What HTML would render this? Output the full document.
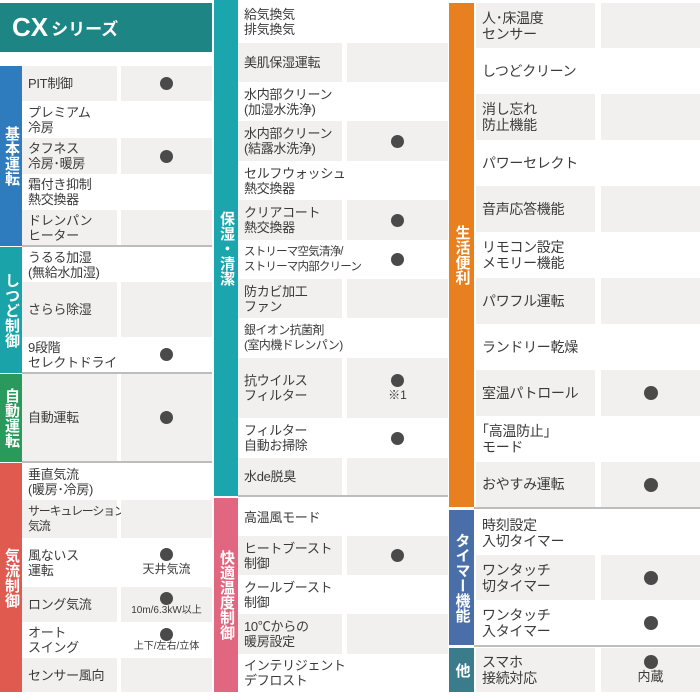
<!DOCTYPE html>
<html><head><meta charset="utf-8"><style>
body{margin:0;width:700px;height:700px;background:#fff;position:relative;overflow:hidden;font-family:"Liberation Sans","Noto Sans CJK JP",sans-serif;color:#3a3a3a}
div{position:absolute;box-sizing:border-box}
.l{font-size:13px;line-height:15px;display:flex;align-items:center;padding-left:6px;white-space:nowrap;letter-spacing:-0.3px}
.g{background:#f1f0ee}
.v{display:flex;flex-direction:column;align-items:center;justify-content:center;font-size:10px;line-height:12px}
.d{position:static;width:13px;height:13px;border-radius:50%;background:#4a4a4a}
.s{color:#fff;font-weight:bold;font-size:15px;line-height:16px;display:flex;align-items:center;justify-content:center;writing-mode:vertical-rl;text-orientation:upright}
.hr{height:2px;background:#bdbdbd}
</style></head><body>
<div style="left:0;top:3px;width:212px;height:49px;background:#1e8585;color:#fff;padding-left:12px;display:flex;align-items:center"><span style="font-size:26px;font-weight:bold">CX</span><span style="font-size:17px;font-weight:bold;margin-left:3px">シリーズ</span></div>

<!-- col1 -->
<div class="s" style="left:0;top:66px;width:22px;height:180px;background:#2e7bbd">基本運転</div>
<div class="s" style="left:0;top:247px;width:22px;height:126px;background:#1aa3a8">しつど制御</div>
<div class="s" style="left:0;top:374px;width:22px;height:88px;background:#2a9a5c">自動運転</div>
<div class="s" style="left:0;top:463px;width:22px;height:229px;background:#e05a4f">気流制御</div>
<div class="hr" style="left:22px;top:245px;width:190px"></div>
<div class="hr" style="left:22px;top:372px;width:190px"></div>
<div class="hr" style="left:22px;top:461px;width:190px"></div>

<div class="l g" style="left:22px;top:66px;width:95px;height:35px">PIT制御</div><div class="v g" style="left:121px;top:66px;width:91px;height:35px"><div class="d"></div></div>
<div class="l" style="left:22px;top:101px;width:95px;height:37px">プレミアム<br>冷房</div>
<div class="l g" style="left:22px;top:138px;width:95px;height:36px">タフネス<br>冷房･暖房</div><div class="v g" style="left:121px;top:138px;width:91px;height:36px"><div class="d"></div></div>
<div class="l" style="left:22px;top:174px;width:95px;height:36px">霜付き抑制<br>熱交換器</div>
<div class="l g" style="left:22px;top:210px;width:95px;height:35px">ドレンパン<br>ヒーター</div><div class="v g" style="left:121px;top:210px;width:91px;height:35px"></div>
<div class="l" style="left:22px;top:247px;width:95px;height:35px">うるる加湿<br>(無給水加湿)</div>
<div class="l g" style="left:22px;top:282px;width:95px;height:55px">さらら除湿</div><div class="v g" style="left:121px;top:282px;width:91px;height:55px"></div>
<div class="l" style="left:22px;top:337px;width:95px;height:35px">9段階<br>セレクトドライ</div><div class="v" style="left:121px;top:337px;width:91px;height:35px"><div class="d"></div></div>
<div class="l g" style="left:22px;top:374px;width:95px;height:87px">自動運転</div><div class="v g" style="left:121px;top:374px;width:91px;height:87px"><div class="d"></div></div>
<div class="l" style="left:22px;top:463px;width:95px;height:37px">垂直気流<br>(暖房･冷房)</div>
<div class="l g" style="left:22px;top:500px;width:95px;height:38px;font-size:12px;letter-spacing:-1.2px">サーキュレーション<br>気流</div><div class="v g" style="left:121px;top:500px;width:91px;height:38px"></div>
<div class="l" style="left:22px;top:538px;width:95px;height:49px">風ないス<br>運転</div><div class="v" style="left:121px;top:538px;width:91px;height:49px;font-size:12px;line-height:16px"><div class="d"></div>天井気流</div>
<div class="l g" style="left:22px;top:587px;width:95px;height:35px">ロング気流</div><div class="v g" style="left:121px;top:587px;width:91px;height:35px"><div class="d"></div>10m/6.3kW以上</div>
<div class="l" style="left:22px;top:622px;width:95px;height:36px">オート<br>スイング</div><div class="v" style="left:121px;top:622px;width:91px;height:36px"><div class="d"></div>上下/左右/立体</div>
<div class="l g" style="left:22px;top:658px;width:95px;height:34px">センサー風向</div><div class="v g" style="left:121px;top:658px;width:91px;height:34px"></div>

<!-- col2 -->
<div class="s" style="left:214px;top:0;width:24px;height:496px;background:#1ba6ad">保湿・清潔</div>
<div class="s" style="left:214px;top:498px;width:24px;height:194px;background:#e0677f">快適温度制御</div>
<div class="hr" style="left:238px;top:495px;width:210px"></div>
<div class="l" style="left:238px;top:0;width:104px;height:43px">給気換気<br>排気換気</div>
<div class="l g" style="left:238px;top:43px;width:104px;height:39px">美肌保湿運転</div><div class="v g" style="left:347px;top:43px;width:101px;height:39px"></div>
<div class="l" style="left:238px;top:82px;width:104px;height:39px">水内部クリーン<br>(加湿水洗浄)</div>
<div class="l g" style="left:238px;top:121px;width:104px;height:40px">水内部クリーン<br>(結露水洗浄)</div><div class="v g" style="left:347px;top:121px;width:101px;height:40px"><div class="d"></div></div>
<div class="l" style="left:238px;top:161px;width:104px;height:39px">セルフウォッシュ<br>熱交換器</div>
<div class="l g" style="left:238px;top:200px;width:104px;height:40px">クリアコート<br>熱交換器</div><div class="v g" style="left:347px;top:200px;width:101px;height:40px"><div class="d"></div></div>
<div class="l" style="left:238px;top:240px;width:104px;height:39px;font-size:11.5px;letter-spacing:-0.8px">ストリーマ空気清浄/<br>ストリーマ内部クリーン</div><div class="v" style="left:347px;top:240px;width:101px;height:39px"><div class="d"></div></div>
<div class="l g" style="left:238px;top:279px;width:104px;height:39px">防カビ加工<br>ファン</div><div class="v g" style="left:347px;top:279px;width:101px;height:39px"></div>
<div class="l" style="left:238px;top:318px;width:104px;height:40px;font-size:12px;letter-spacing:-0.6px">銀イオン抗菌剤<br>(室内機ドレンパン)</div>
<div class="l g" style="left:238px;top:358px;width:104px;height:60px">抗ウイルス<br>フィルター</div><div class="v g" style="left:347px;top:358px;width:101px;height:60px;font-size:12px;line-height:16px"><div class="d"></div>※1</div>
<div class="l" style="left:238px;top:418px;width:104px;height:40px">フィルター<br>自動お掃除</div><div class="v" style="left:347px;top:418px;width:101px;height:40px"><div class="d"></div></div>
<div class="l g" style="left:238px;top:458px;width:104px;height:37px">水de脱臭</div><div class="v g" style="left:347px;top:458px;width:101px;height:37px"></div>
<div class="l" style="left:238px;top:498px;width:104px;height:38px">高温風モード</div>
<div class="l g" style="left:238px;top:536px;width:104px;height:39px">ヒートブースト<br>制御</div><div class="v g" style="left:347px;top:536px;width:101px;height:39px"><div class="d"></div></div>
<div class="l" style="left:238px;top:575px;width:104px;height:39px">クールブースト<br>制御</div>
<div class="l g" style="left:238px;top:614px;width:104px;height:40px">10℃からの<br>暖房設定</div><div class="v g" style="left:347px;top:614px;width:101px;height:40px"></div>
<div class="l" style="left:238px;top:654px;width:104px;height:38px">インテリジェント<br>デフロスト</div>

<!-- col3 -->
<div class="s" style="left:449px;top:3px;width:25px;height:504px;background:#e8801f">生活便利</div>
<div class="s" style="left:449px;top:510px;width:25px;height:135px;background:#4a6fa8">タイマー機能</div>
<div class="s" style="left:449px;top:648px;width:25px;height:44px;background:#3a7b8c">他</div>
<div class="hr" style="left:474px;top:507px;width:226px"></div>
<div class="hr" style="left:474px;top:645px;width:226px"></div>
<div class="l g" style="left:476px;top:3px;width:119px;height:45px;font-size:14px;line-height:16px">人･床温度<br>センサー</div><div class="v g" style="left:601px;top:3px;width:99px;height:45px"></div>
<div class="l" style="left:476px;top:48px;width:119px;height:46px;font-size:14px">しつどクリーン</div>
<div class="l g" style="left:476px;top:94px;width:119px;height:46px;font-size:14px;line-height:16px">消し忘れ<br>防止機能</div><div class="v g" style="left:601px;top:94px;width:99px;height:46px"></div>
<div class="l" style="left:476px;top:140px;width:119px;height:46px;font-size:14px">パワーセレクト</div>
<div class="l g" style="left:476px;top:186px;width:119px;height:46px;font-size:14px">音声応答機能</div><div class="v g" style="left:601px;top:186px;width:99px;height:46px"></div>
<div class="l" style="left:476px;top:232px;width:119px;height:46px;font-size:14px;line-height:16px">リモコン設定<br>メモリー機能</div>
<div class="l g" style="left:476px;top:278px;width:119px;height:46px;font-size:14px">パワフル運転</div><div class="v g" style="left:601px;top:278px;width:99px;height:46px"></div>
<div class="l" style="left:476px;top:324px;width:119px;height:46px;font-size:14px">ランドリー乾燥</div>
<div class="l g" style="left:476px;top:370px;width:119px;height:46px;font-size:14px">室温パトロール</div><div class="v g" style="left:601px;top:370px;width:99px;height:46px"><div class="d" style="width:14px;height:14px"></div></div>
<div class="l" style="left:476px;top:416px;width:119px;height:46px;font-size:14px;line-height:16px">｢高温防止｣<br>モード</div>
<div class="l g" style="left:476px;top:462px;width:119px;height:45px;font-size:14px">おやすみ運転</div><div class="v g" style="left:601px;top:462px;width:99px;height:45px"><div class="d" style="width:14px;height:14px"></div></div>
<div class="l" style="left:476px;top:510px;width:119px;height:45px;font-size:14px;line-height:16px">時刻設定<br>入切タイマー</div>
<div class="l g" style="left:476px;top:555px;width:119px;height:45px;font-size:14px;line-height:16px">ワンタッチ<br>切タイマー</div><div class="v g" style="left:601px;top:555px;width:99px;height:45px"><div class="d" style="width:14px;height:14px"></div></div>
<div class="l" style="left:476px;top:600px;width:119px;height:45px;font-size:14px;line-height:16px">ワンタッチ<br>入タイマー</div><div class="v" style="left:601px;top:600px;width:99px;height:45px"><div class="d" style="width:14px;height:14px"></div></div>
<div class="l g" style="left:476px;top:648px;width:119px;height:44px;font-size:14px;line-height:16px">スマホ<br>接続対応</div><div class="v g" style="left:601px;top:648px;width:99px;height:44px;font-size:13px;line-height:16px"><div class="d" style="width:14px;height:14px"></div>内蔵</div>
</body></html>
